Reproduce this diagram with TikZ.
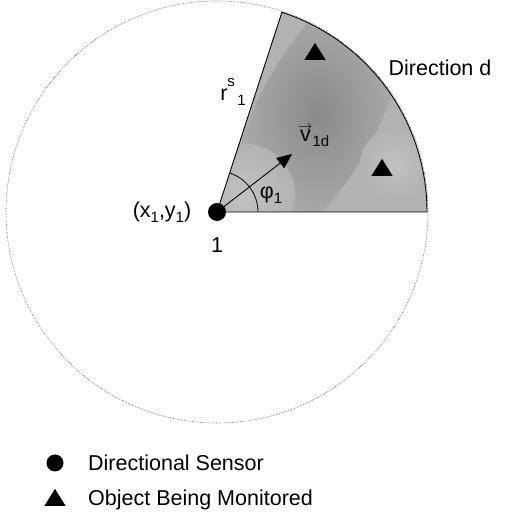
\documentclass[tikz,border=0pt]{standalone}
\usepackage{fontspec}
\setmainfont{Liberation Sans}
\usetikzlibrary{arrows.meta,shapes.geometric}
\newcommand{\subsc}[1]{\raisebox{-0.45ex}{\fontsize{15}{15}\selectfont #1}}
\tikzset{
  lab/.style={inner sep=0pt, font=\fontsize{21.5}{24}\selectfont},
  obj/.style={isosceles triangle, isosceles triangle apex angle=64, shape border rotate=90, fill=black, inner sep=0pt, minimum height=17pt},
  sensor/.style={circle, fill=black, inner sep=0pt, minimum size=18pt},
  rangecircle/.style={draw=black!65, densely dotted, line width=0.6pt},
}
\begin{document}
\begin{tikzpicture}[x=1pt,y=1pt]
\useasboundingbox (0,0) rectangle (509,524);
% dotted sensing circle
\draw[rangecircle] (217,312) circle (211);
% sector
\path[fill=black!30] (217,312) -- ++(0:210) arc (0:72:210) -- cycle;
\begin{scope}
  \clip (217,312) -- ++(0:210) arc (0:72:210) -- cycle;
  \shade[inner color=black!46, outer color=black!30, rotate around={62:(318,410)}] (318,410) ellipse (150 and 60);
  \shade[inner color=black!24, outer color=black!30] (245,330) circle (50);
  \shade[inner color=black!24, outer color=black!30] (395,360) circle (35);
\end{scope}
\draw[line width=0.9pt] (217,312) -- ++(0:210) arc (0:72:210) -- cycle;
% angle mark
\draw[line width=0.8pt] (217,312) ++(0:41) arc (0:72:41);
% sensor
\node[sensor] (s1) at (217,312) {};
\coordinate (vend) at (292,370);
\draw[line width=0.9pt, -{Triangle[length=15pt,width=13pt]}] (s1.center) -- (vend);
% objects
\node[obj] (o1) at (315,470) {};
\node[obj] (o2) at (382,354) {};
% labels
\node[lab] (dir) at (440,456) {Direction d};
\node[lab] (r) at (233,432) {r\raisebox{1.2ex}{\fontsize{15}{15}\selectfont s}\subsc{\,1}};
\node[lab, anchor=west] (v) at (298,388) {\shortstack{$\scriptstyle\rightarrow$\\[-3pt]v}\subsc{1d}};
\node[lab] (phi) at (271,329) {φ\subsc{1}};
\node[lab] (xy) at (162,312) {(x\subsc{1},y\subsc{1})};
\node[lab] (one) at (217,279) {1};
% legend
\node[sensor, minimum size=17pt] (ls) at (55,61) {};
\node[lab, anchor=west] (lst) at (88,61) {Directional Sensor};
\node[obj] (lo) at (55,24) {};
\node[lab, anchor=west] (lot) at (88,24) {Object Being Monitored};
\end{tikzpicture}
\end{document}
